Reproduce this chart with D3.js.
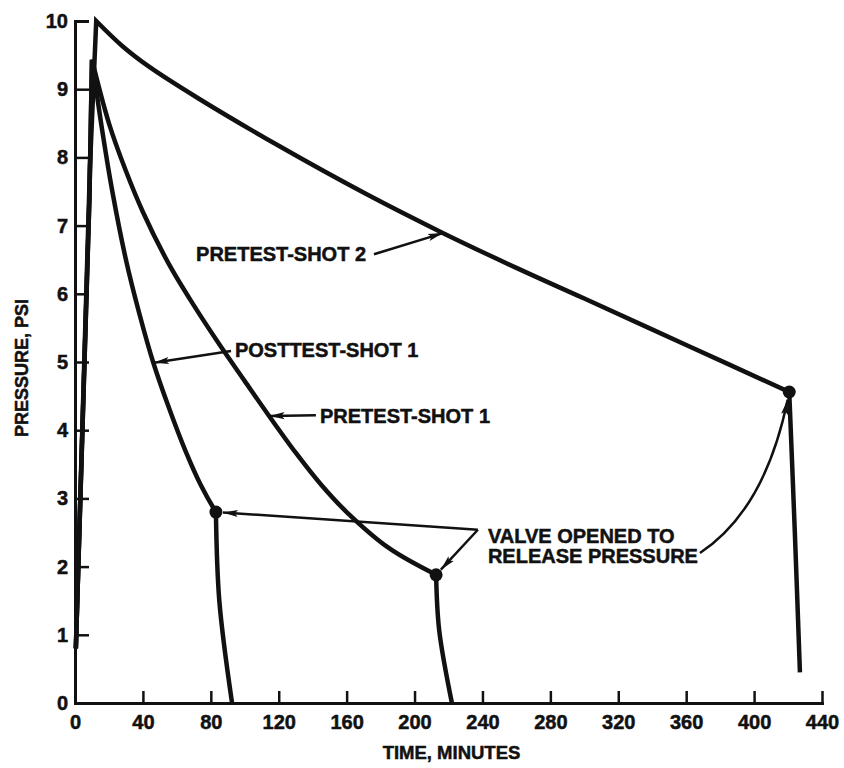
<!DOCTYPE html>
<html>
<head>
<meta charset="utf-8">
<script src="https://cdn.jsdelivr.net/npm/d3@7"></script>
<style>
  html, body { margin: 0; padding: 0; background: #fff; }
  svg text {
    font-family: "Liberation Sans", Arial, "Helvetica", sans-serif;
    font-weight: bold;
    fill: #111;
    stroke: #111;
    stroke-width: 0.5px;
  }
</style>
</head>
<body>
<svg id="chart" width="844" height="768"></svg>
<script>
// ---- data -------------------------------------------------------------
const timeTicks = [0, 40, 80, 120, 160, 200, 240, 280, 320, 360, 400, 440];
const pressureTicks = [0, 1, 2, 3, 4, 5, 6, 7, 8, 9, 10];

// [time (min), pressure (psi)]
const pretestShot2 = [
  [0.5, 0.8], [8.8, 7.86], [12.5, 10.0], [28, 9.63], [43.6, 9.33], [73, 8.86], [120, 8.17],
  [171, 7.47], [216, 6.9], [260, 6.38], [300, 5.93], [360, 5.25], [420.7, 4.56],
  [424, 2.5], [427, 0.45]
];
const pretestShot1 = [
  [0.5, 0.8], [8.5, 7.4], [10, 9.43], [20, 8.5], [30, 7.8], [40, 7.2], [55, 6.45],
  [70, 5.83], [85, 5.26], [100, 4.72], [114, 4.22], [130, 3.67], [145, 3.2],
  [160, 2.8], [185, 2.27], [212.7, 1.88], [214.5, 1.07], [222, 0]
];
const posttestShot1 = [
  [0.5, 0.8], [8.5, 7.4], [10, 9.43], [16, 8.4], [22, 7.5], [30, 6.5], [38, 5.7],
  [46, 5.0], [55, 4.35], [65, 3.7], [74, 3.2], [83, 2.8], [85, 1.5], [92.5, 0]
];
// instants at which the valve was opened to release pressure
const valvePoints = [[83, 2.8], [212.7, 1.88], [420.7, 4.56]];

const curveLabels = [
  { text: "PRETEST-SHOT 2",  at: [71.3, 6.48],  from: [176.1, 6.58], to: [216.7, 6.89] },
  { text: "POSTTEST-SHOT 1", at: [94.2, 5.07],  from: [91.9, 5.16],  to: [46.5, 4.99] },
  { text: "PRETEST-SHOT 1",  at: [144.3, 4.10], from: [141.9, 4.22], to: [114.6, 4.21] }
];
const valveNote = {
  lines: ["VALVE OPENED TO", "RELEASE PRESSURE"],
  at: [243.2, 2.35],
  vertex: [237.3, 2.54],
  curveStart: [368.1, 2.2],
  curveCtrl: [406.4, 2.83]
};

// ---- layout -----------------------------------------------------------
const svg = d3.select("#chart");
const x = d3.scaleLinear().domain([0, 440]).range([75, 822]);
const y = d3.scaleLinear().domain([0, 10]).range([703, 21]);
const ink = "#111";

// ---- axes -------------------------------------------------------------
const xAxis = d3.axisBottom(x).tickValues(timeTicks).tickFormat(d3.format("d"))
  .tickSizeInner(-12).tickSizeOuter(0).tickPadding(12);
const yAxis = d3.axisLeft(y).tickValues(pressureTicks).tickFormat(d3.format("d"))
  .tickSizeInner(-14).tickSizeOuter(0).tickPadding(7);

const gx = svg.append("g").attr("transform", `translate(0,${y(0)})`).call(xAxis);
const gy = svg.append("g").attr("transform", `translate(${x(0)},0)`).call(yAxis);
[gx, gy].forEach(g => {
  g.select(".domain").attr("stroke", ink).attr("stroke-width", 3).attr("stroke-linecap", "square");
  g.selectAll(".tick line").attr("stroke", ink).attr("stroke-width", 2.5);
  g.selectAll(".tick text").style("font-size", "20px").attr("fill", ink)
    .style("font-family", '"Liberation Sans", Arial, sans-serif').style("font-weight", "bold");
});
gy.selectAll(".tick").filter(d => d === 0 || d === 10).select("line").attr("stroke-width", 3);

svg.append("text")
  .attr("x", (x(0) + x(440)) / 2 + 3).attr("y", 759)
  .attr("text-anchor", "middle").style("font-size", "18.5px")
  .text("TIME, MINUTES");
svg.append("text")
  .attr("transform", `translate(28, ${(y(0) + y(10)) / 2 + 6}) rotate(-90)`)
  .attr("text-anchor", "middle").style("font-size", "18px")
  .text("PRESSURE, PSI");

// ---- curves -----------------------------------------------------------
// rise is straight, the decay and the release after the valve are smooth
const straight = d3.line().x(d => x(d[0])).y(d => y(d[1]));
const smooth = d3.line().x(d => x(d[0])).y(d => y(d[1])).curve(d3.curveCatmullRom.alpha(0.5));

function curvePath(data, valve) {
  const peak = d3.maxIndex(data, d => d[1]);
  const cut = data.findIndex(d => d[0] === valve[0] && d[1] === valve[1]);
  const rise = straight(data.slice(0, peak + 1));
  const decay = smooth(data.slice(peak, cut + 1)).replace(/^M/, "L");
  const drop = smooth(data.slice(cut)).replace(/^M/, "L");
  return rise + decay + drop;
}

const series = [pretestShot2, pretestShot1, posttestShot1];
const valveOf = [valvePoints[2], valvePoints[1], valvePoints[0]];
svg.append("g").selectAll("path").data(series).join("path")
  .attr("d", (d, i) => curvePath(d, valveOf[i]))
  .attr("fill", "none").attr("stroke", ink).attr("stroke-width", 4.5)
  .attr("stroke-linejoin", "miter").attr("stroke-linecap", "butt");

svg.append("g").selectAll("circle").data(valvePoints).join("circle")
  .attr("cx", d => x(d[0])).attr("cy", d => y(d[1])).attr("r", 6.5).attr("fill", ink);

// ---- annotations ------------------------------------------------------
function arrowHead(g, tip, from, len = 15, half = 3.6) {
  const dx = tip[0] - from[0], dy = tip[1] - from[1];
  const L = Math.hypot(dx, dy), ux = dx / L, uy = dy / L, nx = -uy, ny = ux;
  const bx = tip[0] - ux * len, by = tip[1] - uy * len;
  const pts = [
    [tip[0], tip[1]],
    [bx + nx * half, by + ny * half],
    [tip[0] - ux * len * 0.8, tip[1] - uy * len * 0.8],
    [bx - nx * half, by - ny * half]
  ];
  g.append("path").attr("d", "M" + pts.map(p => p.join(",")).join("L") + "Z").attr("fill", ink);
}

const ann = svg.append("g");
curveLabels.forEach(a => {
  ann.append("text").attr("x", x(a.at[0])).attr("y", y(a.at[1]))
    .style("font-size", "20px").text(a.text);
  const p0 = [x(a.from[0]), y(a.from[1])], p1 = [x(a.to[0]), y(a.to[1])];
  ann.append("line").attr("x1", p0[0]).attr("y1", p0[1]).attr("x2", p1[0]).attr("y2", p1[1])
    .attr("stroke", ink).attr("stroke-width", 2.5);
  arrowHead(ann, p1, p0);
});

valveNote.lines.forEach((t, i) => {
  ann.append("text").attr("x", x(valveNote.at[0])).attr("y", y(valveNote.at[1]) + i * 20)
    .style("font-size", "20px").text(t);
});
const vtx = [x(valveNote.vertex[0]), y(valveNote.vertex[1])];
[valvePoints[0], valvePoints[1]].forEach(v => {
  const c = [x(v[0]), y(v[1])];
  const dx = vtx[0] - c[0], dy = vtx[1] - c[1], L = Math.hypot(dx, dy);
  const tip = [c[0] + dx / L * 7, c[1] + dy / L * 7];
  ann.append("line").attr("x1", vtx[0]).attr("y1", vtx[1]).attr("x2", tip[0]).attr("y2", tip[1])
    .attr("stroke", ink).attr("stroke-width", 2.5);
  arrowHead(ann, tip, vtx);
});
{
  const v = valvePoints[2];
  const c = [x(v[0]), y(v[1])];
  const s = [x(valveNote.curveStart[0]), y(valveNote.curveStart[1])];
  const k = [x(valveNote.curveCtrl[0]), y(valveNote.curveCtrl[1])];
  const dx = k[0] - c[0], dy = k[1] - c[1], L = Math.hypot(dx, dy);
  const tip = [c[0] + dx / L * 8, c[1] + dy / L * 8];
  ann.append("path").attr("d", `M${s[0]},${s[1]}Q${k[0]},${k[1]} ${tip[0]},${tip[1]}`)
    .attr("fill", "none").attr("stroke", ink).attr("stroke-width", 2.5);
  arrowHead(ann, tip, k);
}
</script>
</body>
</html>
